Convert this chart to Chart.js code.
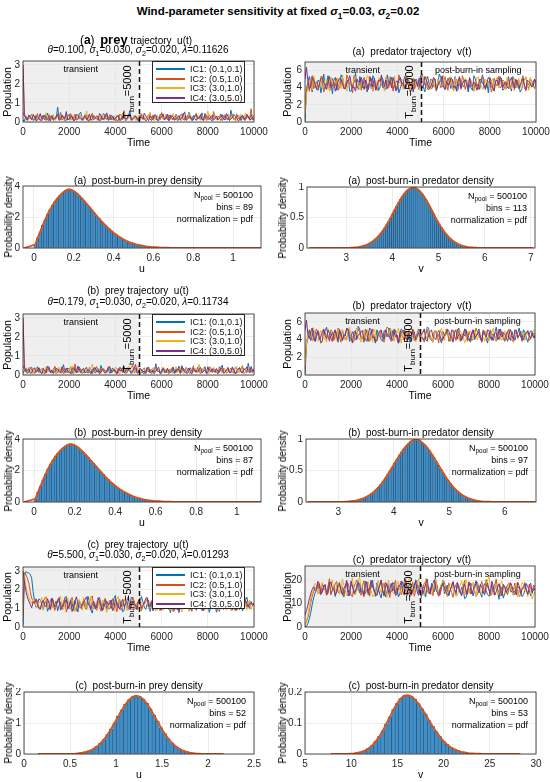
<!DOCTYPE html>
<html><head><meta charset="utf-8">
<script src="https://cdn.jsdelivr.net/npm/chart.js@4.4.0/dist/chart.umd.min.js"></script>
<style>
html,body{margin:0;padding:0;background:#fff;}
body{width:550px;height:782px;position:relative;overflow:hidden;font-family:"Liberation Sans",Arial,Helvetica,sans-serif;color:#000;}
canvas{position:absolute;}
.t{position:absolute;white-space:nowrap;line-height:1;}
sub{font-size:72%;vertical-align:-0.4em;line-height:0;}
.legend{position:absolute;background:#fff;border:0.8px solid #262626;font-size:9px;box-sizing:border-box;}
</style></head><body>
<script>
// ---------------- DATA ----------------
const time = [0,62.5,125,187.5,250,312.5,375,437.5,500,562.5,625,687.5,750,812.5,875,937.5,
1000,1062.5,1125,1187.5,1250,1312.5,1375,1437.5,1500,1562.5,1625,1687.5,1750,1812.5,1875,1937.5,
2000,2062.5,2125,2187.5,2250,2312.5,2375,2437.5,2500,2562.5,2625,2687.5,2750,2812.5,2875,2937.5,
3000,3062.5,3125,3187.5,3250,3312.5,3375,3437.5,3500,3562.5,3625,3687.5,3750,3812.5,3875,3937.5,
4000,4062.5,4125,4187.5,4250,4312.5,4375,4437.5,4500,4562.5,4625,4687.5,4750,4812.5,4875,4937.5,
5000,5062.5,5125,5187.5,5250,5312.5,5375,5437.5,5500,5562.5,5625,5687.5,5750,5812.5,5875,5937.5,
6000,6062.5,6125,6187.5,6250,6312.5,6375,6437.5,6500,6562.5,6625,6687.5,6750,6812.5,6875,6937.5,
7000,7062.5,7125,7187.5,7250,7312.5,7375,7437.5,7500,7562.5,7625,7687.5,7750,7812.5,7875,7937.5,
8000,8062.5,8125,8187.5,8250,8312.5,8375,8437.5,8500,8562.5,8625,8687.5,8750,8812.5,8875,8937.5,
9000,9062.5,9125,9187.5,9250,9312.5,9375,9437.5,9500,9562.5,9625,9687.5,9750,9812.5,9875,9937.5,
10000];
const icLabels = ['IC1: (0.1,0.1)','IC2: (0.5,1.0)','IC3: (3.0,1.0)','IC4: (3.0,5.0)'];
const icColors = ['#0072BD','#D95319','#EDB120','#7E2F8E'];
const burnTime = 5000;
const nPool = 500100;

// (a) prey u(t)
const preyA1 = [0.10,0.05,0.31,0.14,0.18,0.29,0.42,0.09,0.12,0.35,0.27,0.16,0.08,0.22,0.36,0.11,0.21,0.47,0.15,0.06,
0.33,0.24,0.11,0.19,0.78,0.13,0.19,0.38,0.26,0.07,0.09,0.30,0.40,0.18,0.14,0.25,0.29,0.10,0.17,0.43,
0.51,0.15,0.12,0.28,0.24,0.06,0.07,0.33,0.37,0.12,0.20,0.26,0.30,0.09,0.10,0.39,0.44,0.17,0.16,0.23,
0.23,0.11,0.32,0.20,0.08,0.34,0.27,0.13,0.19,0.45,0.39,0.08,0.12,0.25,0.56,0.18,0.17,0.31,0.28,0.10,
0.09,0.37,0.34,0.16,0.21,0.05,0.13,0.28,0.46,0.14,0.18,0.32,0.26,0.09,0.07,0.41,0.33,0.19,0.15,0.24,
0.24,0.10,0.38,0.21,0.11,0.30,0.29,0.07,0.16,0.35,0.43,0.13,0.10,0.26,0.27,0.51,0.20,0.12,0.35,0.18,
0.08,0.27,0.23,0.14,0.48,0.09,0.14,0.33,0.30,0.20,0.12,0.06,0.37,0.24,0.19,0.11,0.25,0.42,0.09,0.16,
0.33,0.22,0.17,0.08,0.62,0.29,0.13,0.18,0.28,0.35,0.21,0.07,0.36,0.23,0.10,0.31,0.24,0.15,0.40,0.11,
0.16];
const preyA2 = [0.50,0.31,0.19,0.08,0.34,0.22,0.11,0.41,0.25,0.13,0.45,0.20,0.14,0.06,0.30,0.36,0.08,0.17,0.38,0.12,
0.22,0.09,0.13,0.33,0.29,0.15,0.52,0.10,0.16,0.27,0.35,0.19,0.10,0.44,0.24,0.07,0.41,0.20,0.12,0.31,
0.28,0.15,0.18,0.40,0.36,0.09,0.09,0.23,0.47,0.14,0.20,0.33,0.15,0.06,0.31,0.25,0.11,0.39,0.26,0.13,
0.39,0.18,0.14,0.29,0.23,0.07,0.08,0.42,0.34,0.12,0.60,0.21,0.17,0.35,0.27,0.09,0.12,0.30,0.32,0.16,
0.21,0.10,0.44,0.26,0.10,0.19,0.29,0.38,0.16,0.07,0.37,0.23,0.13,0.32,0.25,0.11,0.50,0.17,0.18,0.28,
0.11,0.36,0.30,0.14,0.22,0.08,0.41,0.27,0.09,0.19,0.27,0.45,0.15,0.10,0.35,0.22,0.19,0.06,0.12,0.33,
0.46,0.15,0.24,0.31,0.10,0.20,0.33,0.08,0.18,0.39,0.28,0.12,0.55,0.24,0.13,0.30,0.26,0.07,0.20,0.34,
0.37,0.14,0.11,0.25,0.29,0.40,0.16,0.09,0.43,0.21,0.14,0.32,0.23,0.11,0.09,0.27,0.31,0.18,0.70,0.15,
0.21];
const preyA3 = [3.00,0.45,0.27,0.12,0.13,0.30,0.39,0.17,0.22,0.08,0.10,0.36,0.33,0.15,0.18,0.27,0.49,0.11,0.14,0.24,
0.26,0.40,0.09,0.19,0.35,0.13,0.20,0.31,0.12,0.07,0.43,0.22,0.17,0.10,0.29,0.37,0.11,0.16,0.24,0.33,
0.38,0.12,0.15,0.26,0.58,0.19,0.21,0.09,0.08,0.34,0.31,0.23,0.19,0.14,0.27,0.42,0.13,0.20,0.40,0.11,
0.16,0.32,0.25,0.07,0.10,0.28,0.36,0.15,0.22,0.44,0.47,0.18,0.12,0.25,0.30,0.10,0.18,0.35,0.09,0.21,
0.34,0.13,0.20,0.38,0.27,0.09,0.14,0.29,0.52,0.16,0.17,0.06,0.24,0.33,0.11,0.20,0.37,0.14,0.19,0.41,
0.28,0.10,0.13,0.24,0.45,0.18,0.16,0.31,0.23,0.07,0.08,0.26,0.32,0.15,0.21,0.43,0.39,0.12,0.12,0.29,
0.26,0.37,0.17,0.09,0.35,0.22,0.10,0.16,0.57,0.28,0.19,0.11,0.24,0.34,0.14,0.08,0.31,0.25,0.22,0.15,
0.11,0.30,0.42,0.13,0.18,0.36,0.27,0.07,0.09,0.23,0.34,0.40,0.15,0.12,0.48,0.26,0.20,0.09,0.13,0.33,
0.29];
const preyA4 = [3.00,0.38,0.21,0.10,0.37,0.26,0.14,0.33,0.29,0.07,0.11,0.22,0.44,0.15,0.19,0.35,0.25,0.12,0.08,0.30,
0.32,0.14,0.17,0.27,0.40,0.09,0.13,0.34,0.23,0.18,0.55,0.11,0.15,0.28,0.30,0.07,0.10,0.39,0.36,0.20,
0.19,0.08,0.27,0.33,0.12,0.21,0.42,0.10,0.18,0.31,0.24,0.16,0.09,0.45,0.33,0.13,0.16,0.27,0.48,0.09,
0.13,0.36,0.28,0.11,0.21,0.26,0.35,0.08,0.11,0.30,0.26,0.19,0.17,0.41,0.39,0.12,0.14,0.24,0.31,0.17,
0.08,0.29,0.23,0.14,0.46,0.32,0.19,0.07,0.30,0.25,0.12,0.38,0.37,0.10,0.16,0.22,0.25,0.43,0.10,0.18,
0.41,0.06,0.18,0.33,0.27,0.15,0.13,0.24,0.34,0.11,0.20,0.37,0.53,0.09,0.15,0.28,0.29,0.12,0.11,0.31,
0.36,0.16,0.22,0.40,0.14,0.08,0.45,0.27,0.17,0.13,0.26,0.34,0.09,0.19,0.32,0.11,0.19,0.28,0.38,0.15,
0.12,0.44,0.28,0.09,0.16,0.23,0.40,0.31,0.21,0.07,0.10,0.26,0.35,0.14,0.18,0.41,0.27,0.12,0.14,0.25,
0.33];

// (a) predator v(t)
const predA1 = [0.1,3.6,4.6,5.3,4.1,3.5,5.2,4.4,3.8,4.9,4.7,3.4,4.3,5.6,3.9,4.6,5.4,4.0,4.6,3.3,
4.9,5.2,3.7,4.3,4.4,5.5,5.1,3.9,4.2,4.8,4.9,3.6,3.6,4.4,4.6,5.7,4.2,3.8,5.3,4.1,
4.0,5.0,4.8,3.5,4.3,4.5,3.9,5.4,5.1,4.2,4.5,3.7,4.1,5.2,5.0,4.0,3.8,5.5,4.6,4.3,
5.2,3.9,4.2,4.7,4.8,3.4,3.9,4.5,4.5,5.3,5.1,4.4,4.3,3.6,3.7,4.9,4.7,5.0,4.4,3.8,
5.4,4.2,4.1,3.5,4.8,5.3,4.4,4.0,3.9,4.8,5.0,3.7,4.2,5.6,5.2,4.1,4.3,3.8,4.0,5.1,
4.7,3.9,4.5,4.6,5.3,3.6,3.8,5.2,4.6,4.3,4.1,4.9,4.9,3.5,4.4,4.0,3.7,5.4,5.0,4.2,
4.4,3.8,4.9,5.5,4.0,4.2,4.6,3.4,5.2,4.8,4.1,3.9,4.8,5.1,4.3,4.6,5.1,3.7,3.9,4.5,
4.7,5.3,4.2,3.6,5.3,4.4,4.0,4.9,4.7,3.5,3.8,4.6,5.0,5.2,4.3,3.9,4.6,4.1,4.6,5.0,
4.4];
const predA2 = [1.0,4.0,4.4,3.6,5.0,5.4,3.9,4.3,4.7,4.1,4.2,5.3,5.3,3.5,4.1,4.6,4.8,3.8,3.8,5.1,
4.5,4.2,5.1,3.7,4.1,4.9,4.7,4.0,3.9,5.5,5.0,4.4,4.3,3.4,5.4,4.8,4.0,4.2,4.6,3.7,
4.9,5.2,4.0,3.8,4.4,4.7,5.1,3.6,4.2,4.4,3.7,5.0,4.9,4.3,4.4,3.9,5.2,4.6,4.0,5.3,
4.6,3.6,4.3,4.1,3.8,5.5,5.0,4.2,4.5,3.9,5.3,4.7,4.1,3.5,4.7,5.1,3.9,4.5,4.8,4.0,
4.2,5.6,5.1,4.3,4.5,3.8,3.8,5.0,4.9,4.1,4.3,3.6,5.0,4.8,4.0,4.4,4.6,5.3,4.4,3.7,
5.2,4.6,4.1,3.7,4.7,5.0,4.3,4.4,3.9,5.4,4.9,3.8,4.5,4.1,5.2,4.8,4.2,3.6,4.8,4.5,
3.8,4.3,4.6,5.3,5.0,3.9,4.2,4.7,4.8,3.5,3.9,5.1,4.5,4.2,5.3,4.0,4.1,4.9,4.7,3.8,
4.3,5.0,3.9,4.4,5.1,3.7,4.5,4.9,4.2,4.1,4.9,5.4,4.0,3.6,4.6,4.3,5.1,4.8,4.3,3.9,
4.5];
const predA3 = [1.0,3.2,4.0,4.9,4.8,3.7,5.4,4.5,4.1,3.8,4.6,5.2,3.9,4.3,5.0,4.8,4.4,3.6,5.2,4.6,
4.1,4.7,4.7,5.1,4.3,3.9,5.5,4.4,3.9,3.6,4.7,5.0,4.2,4.4,4.9,5.3,5.1,4.0,3.8,4.5,
4.5,3.9,4.3,5.4,5.3,4.1,4.1,3.7,4.7,4.9,3.9,5.1,5.0,4.2,4.4,3.6,5.2,4.7,4.0,4.3,
4.8,4.2,5.4,3.9,4.2,4.6,4.6,5.0,3.8,4.1,4.9,5.2,4.4,3.7,5.1,4.5,4.1,4.8,4.7,3.9,
3.9,4.5,4.8,5.3,5.3,4.1,4.3,3.8,4.6,5.0,4.0,3.7,5.0,4.6,4.4,4.2,5.4,3.9,4.0,4.8,
4.7,5.3,4.1,3.6,5.2,4.4,4.5,4.9,3.8,4.2,4.9,5.1,4.3,3.9,5.0,4.6,4.6,3.7,4.1,5.2,
5.3,4.3,4.4,3.8,3.9,5.0,4.8,4.3,4.2,4.6,5.1,3.6,4.6,5.2,4.0,4.4,4.9,4.7,4.3,3.8,
5.2,4.5,4.0,3.9,4.7,5.1,4.2,4.0,5.1,4.4,3.9,4.8,4.8,5.3,4.5,3.7,5.2,4.2,4.1,4.6,
4.6];
const predA4 = [5.0,6.4,4.8,3.9,4.1,5.2,4.9,4.4,3.9,3.7,4.5,5.1,5.1,4.6,4.3,3.8,4.7,5.3,4.0,4.2,
4.6,3.6,4.2,4.8,5.1,5.0,4.4,3.9,3.9,4.5,4.8,5.4,4.5,4.0,4.1,3.6,5.0,4.7,4.7,5.2,
4.2,3.8,4.9,4.4,3.8,5.3,4.6,4.1,5.1,3.7,4.3,4.9,4.7,5.5,4.0,4.2,4.9,3.9,4.4,4.8,
4.0,5.2,4.7,3.6,4.3,4.8,5.2,4.5,4.5,3.9,4.0,5.0,4.8,4.2,4.4,3.5,5.0,4.7,4.1,5.1,
4.6,3.9,4.2,5.3,4.9,4.4,3.9,4.1,4.6,5.2,5.0,3.7,4.3,4.6,4.8,5.4,4.1,3.8,4.8,4.3,
4.4,5.1,5.0,4.0,4.2,3.6,4.7,5.3,3.9,4.5,4.8,4.9,4.4,3.8,5.1,4.2,4.2,4.6,4.5,3.7,
4.1,5.0,4.9,4.5,4.3,3.8,4.6,5.2,5.0,4.1,4.0,3.6,4.7,4.9,4.3,5.3,4.9,4.0,4.5,4.7,
4.1,3.9,4.8,5.2,4.4,4.0,5.0,4.6,3.9,4.3,4.6,5.1,4.3,3.8,4.9,4.7,4.5,4.1,4.2,5.0,
4.6];

// (b) prey u(t)
const preyB1 = [0.10,0.22,0.36,0.11,0.15,0.40,0.28,0.17,0.09,0.26,0.43,0.12,0.20,0.35,0.13,0.07,0.31,0.45,0.24,0.16,
0.11,0.29,0.39,0.08,0.17,0.33,0.26,0.12,0.54,0.20,0.14,0.37,0.29,0.10,0.08,0.25,0.35,0.13,0.19,0.42,
0.23,0.09,0.12,0.30,0.41,0.15,0.18,0.06,0.27,0.38,0.10,0.21,0.33,0.14,0.50,0.27,0.16,0.09,0.25,0.34,
0.09,0.18,0.37,0.24,0.21,0.11,0.14,0.40,0.30,0.13,0.45,0.19,0.12,0.32,0.26,0.08,0.19,0.28,0.34,0.15,
0.15,0.36,0.28,0.11,0.08,0.24,0.40,0.17,0.22,0.31,0.13,0.07,0.59,0.25,0.18,0.12,0.27,0.39,0.11,0.21,
0.35,0.14,0.20,0.29,0.14,0.08,0.32,0.22,0.47,0.13,0.16,0.36,0.24,0.10,0.09,0.27,0.38,0.15,0.21,0.30,
0.13,0.41,0.29,0.12,0.18,0.24,0.44,0.09,0.11,0.33,0.26,0.17,0.36,0.22,0.15,0.07,0.23,0.37,0.52,0.11,
0.12,0.26,0.31,0.14,0.19,0.43,0.27,0.08,0.10,0.29,0.39,0.16,0.17,0.34,0.25,0.12,0.62,0.20,0.14,0.30,
0.28];
const preyB2 = [0.50,0.27,0.16,0.09,0.29,0.35,0.41,0.13,0.12,0.22,0.25,0.39,0.18,0.07,0.37,0.24,0.10,0.31,0.33,0.15,
0.21,0.12,0.46,0.28,0.14,0.19,0.27,0.34,0.09,0.16,0.35,0.11,0.19,0.42,0.24,0.08,0.58,0.23,0.13,0.30,
0.30,0.10,0.17,0.26,0.22,0.09,0.40,0.31,0.11,0.18,0.28,0.44,0.15,0.07,0.34,0.25,0.20,0.13,0.12,0.36,
0.43,0.14,0.18,0.29,0.26,0.11,0.10,0.38,0.36,0.17,0.23,0.08,0.14,0.27,0.31,0.40,0.52,0.12,0.16,0.33,
0.25,0.09,0.11,0.30,0.38,0.15,0.19,0.26,0.29,0.07,0.13,0.35,0.45,0.18,0.21,0.10,0.09,0.28,0.32,0.20,
0.17,0.06,0.27,0.37,0.42,0.14,0.12,0.31,0.24,0.09,0.35,0.22,0.15,0.40,0.30,0.11,0.10,0.26,0.48,0.17,
0.20,0.33,0.14,0.08,0.33,0.25,0.26,0.15,0.11,0.43,0.39,0.12,0.18,0.29,0.23,0.07,0.44,0.21,0.13,0.36,
0.28,0.10,0.16,0.25,0.36,0.18,0.09,0.41,0.31,0.14,0.22,0.30,0.49,0.08,0.15,0.27,0.26,0.38,0.19,0.12,
0.34];
const preyB3 = [3.00,0.52,0.24,0.15,0.40,0.28,0.13,0.08,0.31,0.37,0.18,0.11,0.27,0.34,0.09,0.22,0.45,0.14,0.20,0.30,
0.14,0.25,0.33,0.10,0.22,0.41,0.12,0.19,0.38,0.07,0.25,0.29,0.16,0.35,0.48,0.13,0.11,0.24,0.29,0.18,
0.19,0.06,0.36,0.27,0.13,0.21,0.26,0.39,0.57,0.12,0.17,0.30,0.23,0.09,0.10,0.33,0.34,0.16,0.21,0.44,
0.28,0.15,0.12,0.23,0.42,0.31,0.18,0.08,0.30,0.37,0.15,0.11,0.25,0.46,0.37,0.14,0.09,0.26,0.24,0.19,
0.50,0.12,0.16,0.29,0.32,0.07,0.20,0.36,0.13,0.24,0.39,0.10,0.22,0.31,0.27,0.17,0.11,0.41,0.35,0.15,
0.18,0.32,0.26,0.09,0.14,0.28,0.44,0.13,0.21,0.37,0.30,0.08,0.10,0.23,0.37,0.29,0.23,0.12,0.15,0.34,
0.33,0.19,0.56,0.11,0.12,0.38,0.28,0.16,0.19,0.07,0.24,0.30,0.41,0.14,0.16,0.26,0.31,0.40,0.10,0.21,
0.26,0.09,0.38,0.24,0.17,0.11,0.22,0.33,0.47,0.15,0.13,0.28,0.29,0.08,0.20,0.36,0.35,0.14,0.12,0.25,
0.27];
const preyB4 = [3.00,0.41,0.19,0.26,0.32,0.09,0.11,0.30,0.38,0.14,0.23,0.36,0.15,0.07,0.29,0.22,0.13,0.45,0.42,0.12,
0.26,0.08,0.17,0.34,0.31,0.18,0.10,0.43,0.24,0.13,0.36,0.21,0.14,0.09,0.28,0.39,0.21,0.12,0.47,0.25,
0.12,0.30,0.33,0.10,0.18,0.27,0.25,0.14,0.09,0.35,0.39,0.16,0.22,0.08,0.15,0.31,0.30,0.20,0.17,0.40,
0.44,0.11,0.20,0.29,0.13,0.07,0.34,0.23,0.24,0.38,0.11,0.17,0.37,0.27,0.19,0.12,0.27,0.33,0.55,0.10,
0.14,0.32,0.29,0.16,0.21,0.08,0.35,0.42,0.10,0.19,0.26,0.13,0.18,0.30,0.41,0.07,0.15,0.34,0.23,0.11,
0.32,0.25,0.12,0.20,0.39,0.14,0.20,0.31,0.28,0.09,0.49,0.27,0.16,0.12,0.25,0.37,0.13,0.06,0.36,0.22,
0.21,0.15,0.30,0.40,0.11,0.18,0.27,0.09,0.43,0.24,0.17,0.32,0.24,0.13,0.34,0.20,0.14,0.38,0.29,0.10,
0.18,0.27,0.40,0.12,0.13,0.35,0.26,0.08,0.22,0.31,0.37,0.15,0.10,0.29,0.31,0.43,0.19,0.11,0.45,0.17,
0.24];

// (b) predator v(t)
const predB1 = [0.1,3.3,4.5,5.1,3.9,4.4,5.1,3.8,4.3,4.9,4.7,3.6,3.8,4.6,5.0,5.4,4.4,4.0,4.8,4.2,
4.1,5.0,4.6,3.7,5.2,4.3,3.9,4.6,4.4,5.3,5.0,3.8,4.2,4.9,4.7,4.0,4.0,5.5,5.2,4.3,
4.3,3.7,4.6,5.1,3.8,4.4,4.9,5.2,4.2,3.6,5.1,4.6,4.4,4.0,3.8,5.0,4.9,4.3,4.5,5.3,
4.1,3.9,5.2,4.7,4.5,3.6,3.9,4.9,4.8,5.1,4.3,4.1,5.0,3.7,4.4,4.8,3.9,4.2,4.7,5.2,
4.9,4.4,4.2,3.8,4.6,5.4,5.3,4.1,4.0,3.7,4.7,5.0,4.3,4.6,4.0,3.6,4.9,4.5,4.5,5.0,
4.1,3.8,5.1,4.9,4.3,4.0,4.8,5.3,3.8,4.2,4.6,4.4,5.1,4.7,4.2,3.7,4.5,5.1,4.0,4.3,
4.8,5.2,4.4,3.9,5.0,4.7,4.1,3.6,4.7,4.9,3.9,4.5,4.8,5.4,4.4,4.0,5.2,4.6,4.1,3.8,
4.6,5.0,4.2,3.9,4.9,4.3,3.9,4.5,4.7,5.3,4.3,4.0,5.1,4.8,4.2,3.7,4.6,5.0,4.8,4.2,
4.4];
const predB2 = [1.0,3.8,4.2,5.0,4.9,3.9,4.0,4.6,5.2,4.7,4.4,3.7,3.9,5.1,4.8,4.3,4.3,3.8,5.1,4.9,
3.9,4.5,4.7,5.3,4.3,3.7,5.1,4.6,4.0,4.2,4.8,5.0,4.2,3.6,3.8,4.9,4.6,5.2,4.9,4.1,
4.3,3.9,5.2,4.7,4.1,3.8,4.7,5.1,4.5,4.0,3.9,4.8,5.0,4.3,4.3,3.7,4.7,5.4,5.3,4.2,
3.8,4.6,4.5,5.1,4.1,3.6,4.9,4.4,4.4,3.9,5.0,4.7,4.0,4.8,4.7,5.2,4.2,3.8,4.6,4.9,
5.1,4.3,4.0,3.7,4.8,5.1,4.3,4.5,3.9,4.1,5.0,4.8,4.5,3.6,5.1,4.7,4.1,4.4,4.6,5.2,
3.8,4.2,4.9,5.1,4.4,3.9,5.2,4.7,4.0,4.4,4.7,5.0,4.3,3.8,4.9,4.5,3.9,4.1,4.5,5.3,
4.8,4.3,4.2,3.7,5.1,4.9,4.4,4.1,3.9,5.1,4.7,4.4,4.4,3.8,5.0,4.6,4.1,4.9,4.6,3.9,
4.3,4.8,5.2,4.0,4.0,3.7,4.6,5.1,4.3,4.5,4.9,3.8,4.1,4.7,4.8,5.0,3.9,4.2,4.5,4.7,
4.4];
const predB3 = [1.0,3.5,4.7,4.3,4.2,5.3,5.3,4.1,4.0,3.8,4.5,5.0,4.9,4.2,4.1,3.7,5.2,4.8,4.3,4.0,
4.8,4.4,3.9,5.2,4.6,4.0,5.1,4.7,4.2,3.9,4.8,5.4,3.8,4.3,4.5,4.9,5.3,4.1,4.1,3.7,
4.7,5.1,4.0,4.5,5.0,4.2,4.4,3.7,5.2,4.8,3.9,4.4,4.6,5.0,4.2,3.9,4.9,4.6,4.4,5.1,
5.1,4.2,3.8,4.7,4.7,5.3,4.3,3.6,5.0,4.4,4.1,4.9,4.6,5.2,5.3,4.0,4.2,3.8,4.5,5.0,
3.9,4.3,4.9,5.2,4.4,4.1,5.1,4.6,4.1,3.7,4.7,5.0,4.0,4.4,4.9,5.3,4.3,3.9,5.2,4.5,
4.5,4.0,3.9,4.7,4.8,5.2,4.2,4.0,5.0,4.6,4.4,3.6,4.0,4.8,4.8,5.0,4.6,4.1,5.1,4.3,
4.0,4.9,4.7,4.3,4.2,3.8,5.0,4.7,3.9,4.4,4.8,5.3,4.3,4.0,5.1,4.6,4.2,3.9,4.7,5.0,
4.0,4.4,4.9,5.2,4.4,3.8,5.1,4.7,4.1,4.5,4.7,5.0,4.3,3.9,4.9,4.6,4.1,4.3,4.8,5.1,
4.5];
const predB4 = [5.0,6.2,4.6,4.1,4.9,5.3,4.2,3.8,4.7,5.0,4.0,4.3,4.8,5.2,4.4,4.1,5.1,4.7,4.1,3.8,
4.7,5.1,4.3,4.0,5.0,4.7,3.9,4.4,4.6,5.2,5.2,4.2,4.2,3.7,4.8,5.0,4.1,4.5,4.6,4.9,
5.0,4.1,4.1,3.8,4.5,5.3,5.1,4.2,4.3,3.7,3.9,4.6,4.8,5.1,4.3,4.0,5.1,4.7,4.4,4.2,
4.1,5.0,4.9,4.3,4.5,3.6,4.7,5.2,5.0,4.6,4.2,3.9,4.7,4.5,4.3,5.1,4.9,4.0,4.3,4.8,
4.3,4.6,4.8,5.2,4.0,3.8,4.6,4.9,5.1,4.3,4.2,4.0,4.8,5.0,4.4,3.9,4.0,4.6,4.7,5.2,
5.0,4.4,4.3,3.7,4.9,5.0,4.1,4.6,4.6,3.9,4.4,5.2,5.1,4.2,3.9,4.0,4.8,5.1,4.3,4.4,
4.6,4.9,4.1,3.8,4.9,4.6,4.3,5.1,5.0,4.1,4.2,3.9,4.7,4.8,4.0,5.2,4.5,4.3,4.8,4.6,
4.2,3.8,4.7,5.1,4.4,4.0,5.1,4.9,4.2,4.5,4.9,3.9,4.0,4.6,4.7,5.0,4.4,4.1,4.8,4.2,
4.3];

// (c) prey u(t)
const preyC1 = [0.10,2.70,2.95,2.90,2.88,2.80,2.62,1.90,1.38,1.05,1.12,1.50,1.45,1.21,0.92,1.33,1.30,0.84,1.05,1.44,
1.52,1.02,1.18,1.39,0.86,1.15,1.34,0.97,1.10,1.58,1.62,1.20,0.98,1.45,1.27,0.89,1.41,1.13,0.80,1.36,
1.23,0.95,1.48,1.29,1.02,1.64,1.35,0.91,0.74,1.26,1.19,1.03,1.56,1.31,1.08,0.87,1.30,1.47,0.95,1.17,
1.42,0.99,1.16,1.53,1.68,1.11,1.03,1.38,1.25,0.82,0.88,1.32,1.37,1.00,1.12,1.59,1.50,1.07,0.97,1.28,
1.31,1.19,1.63,1.37,1.06,0.94,1.22,1.45,0.83,1.14,1.44,1.66,1.15,0.93,1.29,1.24,0.91,1.35,1.55,1.01,
1.20,1.42,0.76,1.09,1.39,1.57,1.08,0.90,1.33,1.22,1.71,1.18,1.01,1.46,1.26,0.85,0.94,1.31,1.47,1.09,
1.14,0.96,1.36,1.54,0.87,1.12,1.58,1.27,1.21,0.78,1.04,1.40,1.40,1.19,0.79,1.05,1.28,1.61,1.11,0.93,
1.53,1.30,0.99,1.15,1.32,1.48,1.17,0.88,1.66,1.23,1.07,1.37,0.85,1.10,1.43,1.60,1.24,0.98,1.35,1.21,
1.18];
const preyC2 = [0.50,2.90,2.80,2.60,2.35,1.90,1.55,1.35,1.22,1.51,1.40,1.07,0.97,1.28,1.33,1.55,1.61,1.14,1.08,0.90,
1.26,1.45,0.88,1.12,1.47,1.30,1.15,0.93,1.36,1.52,0.79,1.04,1.21,1.39,1.58,1.16,1.02,0.86,1.30,1.43,
1.12,1.25,1.44,1.01,0.93,1.34,1.28,1.60,1.65,1.09,1.06,0.89,1.19,1.42,0.84,1.18,1.38,1.53,1.23,0.96,
0.98,1.27,1.51,1.13,1.17,0.81,1.32,1.48,0.90,1.20,1.45,1.36,1.09,0.94,1.27,1.11,1.60,1.39,1.03,1.24,
1.34,1.56,0.86,1.08,1.20,1.33,1.49,0.98,1.11,1.41,0.95,1.22,1.39,1.64,1.25,0.87,1.72,1.30,1.05,1.16,
1.29,0.92,1.14,1.37,0.81,1.05,1.43,1.26,1.18,0.97,1.57,1.35,0.99,1.12,1.31,1.50,1.10,0.83,1.37,1.24,
0.89,1.19,1.24,1.46,1.52,1.03,1.07,1.29,1.35,1.61,0.96,1.14,1.46,1.33,1.16,0.90,0.83,1.21,1.30,1.47,
1.13,0.95,1.62,1.38,1.01,1.19,1.27,0.88,1.41,1.25,0.92,1.10,1.22,1.57,1.54,1.06,1.08,1.32,1.36,1.17,
1.20];
const preyC3 = [3.00,2.70,2.20,1.85,1.62,1.40,1.25,1.52,1.43,1.11,1.06,1.34,1.30,1.58,0.89,1.20,1.51,1.02,1.17,1.39,
1.38,0.99,1.02,1.27,1.24,1.45,1.66,1.08,0.95,1.19,1.33,1.55,1.12,0.94,1.45,1.26,0.82,1.13,1.28,1.47,
1.19,0.90,1.57,1.30,1.04,1.21,1.36,1.62,0.91,1.07,1.22,1.35,1.49,0.97,1.10,1.42,1.31,1.16,0.78,1.05,
1.40,1.24,1.14,0.85,1.27,1.50,1.63,1.19,1.00,1.12,1.35,1.58,0.87,1.09,1.23,1.33,1.46,0.92,1.09,1.28,
0.96,1.43,1.32,1.11,1.18,1.36,1.54,0.98,1.05,1.21,1.29,1.61,0.84,1.02,1.41,1.26,1.13,0.88,1.26,1.44,
1.59,1.17,0.93,1.30,1.37,0.99,1.15,1.52,1.24,1.08,0.80,1.22,1.48,1.35,1.07,0.86,1.34,1.57,1.20,1.01,
1.44,1.27,1.03,1.13,1.29,1.50,0.90,1.18,1.56,1.37,1.16,0.95,1.25,1.42,1.39,1.04,0.97,1.23,1.31,1.53,
1.12,0.89,1.47,1.29,0.86,1.11,1.23,1.46,1.35,0.97,1.01,1.24,1.60,1.38,1.18,0.91,1.28,1.43,0.94,1.15,
1.33];
const preyC4 = [3.00,2.40,1.92,1.60,1.38,1.20,1.02,1.35,1.31,1.47,1.18,0.99,0.94,1.26,1.42,1.13,1.09,1.51,1.27,0.96,
1.55,1.29,1.06,1.18,1.35,1.57,0.90,1.07,1.21,1.32,1.47,0.97,1.13,1.40,0.82,1.05,1.39,1.61,1.24,1.10,
1.00,1.17,1.32,1.46,1.61,1.27,1.11,0.92,1.26,1.38,0.96,1.15,1.43,1.58,1.19,0.87,1.05,1.30,1.37,1.20,
1.22,1.44,0.88,1.02,1.50,1.31,1.14,0.95,1.29,1.48,1.07,1.23,1.40,1.62,0.93,1.11,1.33,1.25,1.17,0.91,
1.45,1.28,1.03,1.16,1.28,1.53,1.58,1.09,1.10,1.34,0.85,1.00,1.36,1.47,1.20,0.94,1.48,1.31,0.99,1.16,
1.25,1.05,1.41,1.55,1.08,0.89,1.30,1.43,0.77,1.12,1.34,1.24,1.16,0.98,1.53,1.36,1.04,1.21,1.27,1.46,
0.92,1.10,1.38,1.29,1.21,0.87,1.12,1.35,1.49,1.57,0.98,1.14,1.30,1.42,1.64,1.19,1.09,0.95,1.23,1.37,
1.36,1.52,1.01,1.18,1.26,0.90,1.44,1.33,0.89,1.07,1.32,1.45,1.15,0.96,1.42,1.28,1.06,1.22,1.30,1.14,
1.25];

// (c) predator v(t)
const predC1 = [0.1,0.3,1.5,3.5,6.2,9.5,12.4,14.5,15.6,18.0,17.2,14.1,14.8,16.9,18.1,13.5,16.0,19.2,13.9,15.5,
17.5,13.0,15.2,18.2,19.0,16.1,14.1,12.8,16.7,18.9,13.2,15.4,18.4,17.0,15.9,13.7,17.8,19.5,14.5,16.2,
16.3,13.6,19.6,17.3,13.6,15.0,17.0,19.9,15.4,13.1,18.8,16.5,14.0,12.4,16.9,18.6,12.8,15.2,17.7,14.3,
15.1,19.0,18.3,14.4,16.6,12.9,14.2,17.6,19.3,16.0,15.8,13.4,17.3,18.5,13.5,15.5,16.4,20.1,18.9,14.8,
14.7,12.5,17.1,16.3,12.9,18.2,16.2,14.0,18.6,15.8,15.0,19.4,17.6,13.3,14.4,16.7,19.8,14.1,15.7,17.9,
13.3,15.6,17.4,19.1,16.1,13.7,18.2,15.3,14.6,17.0,16.8,12.1,12.6,15.4,17.9,18.8,15.3,13.2,16.5,19.2,
19.1,16.4,14.3,12.7,17.2,18.5,15.5,13.8,13.1,16.6,18.0,14.7,16.0,19.3,14.9,11.8,17.5,15.9,12.3,14.6,
16.6,18.1,18.7,15.0,15.1,13.6,14.0,17.7,17.3,16.4,16.2,12.9,13.8,15.8,18.5,17.1,15.6,13.3,14.2,16.8,
15.9];
const predC2 = [1.0,2.2,4.1,7.0,10.3,13.0,15.2,16.5,16.8,19.3,14.9,13.6,18.3,17.0,15.6,14.2,17.4,20.6,13.8,15.9,
16.2,18.4,19.4,14.8,14.5,16.6,17.1,13.3,15.3,19.0,18.6,16.1,13.7,12.9,16.9,18.5,20.1,15.7,15.0,13.5,
17.8,19.7,14.2,16.0,16.4,13.1,18.9,17.3,15.7,14.4,13.4,16.8,17.3,19.6,16.0,13.8,19.2,17.5,14.8,12.6,
16.6,15.2,18.1,19.9,14.0,16.3,17.5,13.7,15.9,18.0,20.4,15.4,14.6,12.8,16.8,19.1,13.1,15.6,18.4,17.2,
15.4,13.0,17.0,18.6,19.5,15.3,14.3,16.9,16.5,13.4,18.2,20.0,15.1,14.5,13.6,17.3,17.7,19.3,16.1,14.9,
18.8,16.6,14.7,12.7,16.3,18.1,19.0,15.9,15.5,13.9,17.2,19.8,13.9,16.4,16.7,14.0,18.5,17.8,15.2,13.0,
14.1,16.3,17.6,19.4,16.2,14.6,20.2,17.1,15.8,13.2,14.4,16.9,17.9,20.5,16.4,14.1,13.3,15.7,18.0,17.4,
15.6,13.8,17.1,18.6,14.9,16.0,18.7,15.4,16.0,13.1,13.5,16.7,17.4,19.0,15.3,14.2,18.2,16.6,14.6,17.9,
16.8];
const predC3 = [1.0,2.6,5.2,8.5,12.0,14.5,16.1,18.7,17.9,14.0,15.4,17.2,19.1,16.6,16.3,13.3,14.2,16.9,18.0,20.1,
15.8,14.2,17.6,18.9,13.9,16.2,20.5,17.8,16.4,13.5,14.7,16.0,18.5,21.0,15.1,13.7,17.3,19.6,21.2,16.1,
14.5,12.8,16.9,18.1,19.3,15.2,15.6,13.0,13.2,16.4,17.7,19.9,16.2,14.3,18.8,16.6,14.9,12.5,20.0,17.4,
16.7,15.0,14.1,17.3,18.2,19.5,15.9,14.4,17.4,15.8,13.6,16.5,19.7,21.3,16.0,14.7,14.8,17.0,18.3,20.6,
17.0,15.6,15.3,13.1,20.8,18.4,16.6,14.2,13.9,16.8,18.1,20.4,15.5,13.5,17.2,18.7,19.4,15.9,14.4,12.8,
16.9,18.3,18.6,15.7,15.0,13.0,13.4,16.2,17.8,19.7,16.3,14.1,20.3,18.0,14.6,16.4,17.1,19.2,15.7,13.3,
18.9,17.6,16.1,14.0,14.2,16.9,17.5,20.0,21.4,16.7,15.2,13.6,16.8,18.6,13.8,15.0,18.4,19.5,16.5,14.3,
14.0,17.0,19.0,16.2,15.9,13.4,17.3,18.8,12.7,14.9,16.4,19.1,18.1,15.3,15.4,12.9,17.7,16.0,11.9,13.8,
15.1];
const predC4 = [5.0,7.0,9.3,12.0,14.1,16.0,17.2,15.4,16.0,19.4,18.5,14.3,15.1,17.7,17.9,13.8,14.6,18.3,19.2,16.5,
16.4,13.7,15.0,17.9,18.1,15.6,13.8,16.4,17.4,19.9,15.9,13.4,19.6,17.6,14.3,15.2,16.8,19.0,18.3,14.9,
15.2,13.1,17.7,19.3,14.5,16.8,19.9,17.2,16.1,13.9,13.6,15.8,18.0,20.1,15.6,13.2,17.1,18.5,14.8,16.3,
18.6,15.5,16.3,13.4,14.0,17.8,17.5,19.6,15.4,13.6,19.0,17.1,16.7,14.2,13.9,16.0,17.8,19.4,15.3,13.5,
16.9,18.3,14.2,16.4,18.4,20.5,15.8,14.1,17.0,18.6,20.2,15.9,14.7,13.1,16.2,17.6,18.7,16.4,15.1,13.8,
13.7,16.0,17.3,19.4,16.0,14.8,18.9,17.2,14.4,13.2,16.6,18.2,15.5,13.9,19.3,17.0,14.1,15.8,17.6,19.7,
16.3,14.5,18.2,16.9,14.9,13.6,17.0,18.8,15.7,14.2,19.5,17.4,13.5,15.1,16.8,18.5,15.0,13.3,18.1,16.7,
14.6,16.1,16.9,18.9,17.4,14.7,15.2,13.6,19.1,17.5,14.3,16.2,16.5,18.4,15.8,13.9,17.2,18.7,14.8,15.9,
16.1];

// Post-burn-in histograms (pdf heights per bin) and bin edge ranges
const preyA_bins = [0, 1.10];
const preyA_hist = [0.22,0.66,1.05,1.46,1.82,2.17,2.48,2.75,3.00,3.20,
3.38,3.54,3.67,3.76,3.79,3.74,3.64,3.52,3.37,3.20,
3.02,2.84,2.65,2.46,2.27,2.08,1.90,1.72,1.55,1.39,
1.24,1.10,0.97,0.85,0.74,0.64,0.55,0.47,0.40,0.34,
0.29,0.24,0.20,0.17,0.14,0.11,0.09,0.07,0.06,0.05,
0.04,0.03,0.025,0.02,0.015,0.012,0.01,0.008,0.006,0.005,
0.004,0.003,0.002,0.002,0.001,0.001,0.001,0,0,0,
0,0,0,0,0,0,0,0,0,0,
0,0,0,0,0,0,0,0,0];
const preyA_pdfRange = [-0.05, 1.14];

const predA_bins = [2.2, 7.0];
const predA_hist = [0,0,0,0,0,0,0,0,0,0,
0,0,0,0,0,0.001,0.001,0.001,0.002,0.003,
0.004,0.006,0.008,0.011,0.015,0.020,0.027,0.035,0.045,0.058,
0.073,0.092,0.114,0.140,0.170,0.204,0.243,0.286,0.333,0.384,
0.438,0.495,0.565,0.626,0.686,0.744,0.799,0.849,0.894,0.931,
0.960,0.980,0.990,0.990,0.978,0.958,0.929,0.891,0.847,0.796,
0.741,0.683,0.622,0.561,0.492,0.435,0.381,0.330,0.283,0.240,
0.202,0.168,0.138,0.113,0.091,0.072,0.057,0.044,0.034,0.026,
0.020,0.015,0.011,0.008,0.006,0.004,0.003,0.002,0.001,0.001,
0,0,0,0,0,0,0,0,0,0,
0,0,0,0,0,0,0,0,0,0,
0,0,0];
const predA_pdfRange = [2.2, 7.05];

const preyB_bins = [0, 1.08];
const preyB_hist = [0.20,0.63,1.01,1.41,1.76,2.10,2.40,2.66,2.90,3.10,
3.28,3.43,3.55,3.64,3.68,3.65,3.57,3.46,3.32,3.16,
3.00,2.83,2.65,2.47,2.29,2.11,1.93,1.75,1.58,1.42,
1.27,1.13,1.00,0.88,0.77,0.67,0.58,0.50,0.43,0.36,
0.30,0.25,0.21,0.17,0.14,0.11,0.09,0.07,0.06,0.05,
0.04,0.03,0.025,0.02,0.015,0.012,0.01,0.008,0.006,0.005,
0.004,0.003,0.002,0.002,0.001,0.001,0,0,0,0,
0,0,0,0,0,0,0,0,0,0,
0,0,0,0,0,0,0];
const preyB_pdfRange = [-0.05, 1.12];

const predB_bins = [2.45, 6.5];
const predB_hist = [0,0,0,0,0,0,0,0,0,0,
0,0.001,0.001,0.002,0.003,0.004,0.006,0.009,0.013,0.017,
0.023,0.031,0.040,0.052,0.067,0.085,0.106,0.131,0.161,0.195,
0.234,0.278,0.327,0.379,0.436,0.495,0.556,0.619,0.680,0.739,
0.795,0.846,0.890,0.927,0.963,0.982,0.990,0.987,0.972,0.939,
0.906,0.864,0.816,0.762,0.704,0.643,0.581,0.519,0.459,0.401,
0.347,0.297,0.251,0.210,0.174,0.143,0.116,0.093,0.074,0.058,
0.045,0.034,0.026,0.019,0.014,0.010,0.007,0.005,0.004,0.003,
0.002,0.001,0.001,0,0,0,0,0,0,0,
0,0,0,0,0,0,0];
const predB_pdfRange = [2.45, 6.55];

const preyC_bins = [0.15, 2.17];
const preyC_hist = [0,0,0,0,0,0,0.001,0.002,0.004,0.007,
0.013,0.024,0.041,0.067,0.106,0.162,0.239,0.341,0.469,0.626,
0.809,1.009,1.216,1.418,1.600,1.746,1.842,1.880,1.855,1.770,
1.633,1.458,1.257,1.050,0.848,0.661,0.498,0.364,0.257,0.175,
0.116,0.074,0.046,0.027,0.015,0.008,0.004,0.002,0.001,0,
0,0];
const preyC_pdfRange = [0.15, 2.17];

const predC_bins = [7.8, 28.3];
const predC_hist = [0,0,0,0,0,0.001,0.002,0.004,0.007,0.011,
0.018,0.027,0.040,0.056,0.075,0.097,0.120,0.143,0.163,0.179,
0.188,0.190,0.186,0.176,0.163,0.146,0.128,0.108,0.089,0.072,
0.056,0.042,0.031,0.022,0.016,0.011,0.007,0.005,0.003,0.002,
0.001,0.001,0,0,0,0,0,0,0,0,
0,0,0];
const predC_pdfRange = [7.8, 28.3];

// ---------------- RENDERING ----------------
const FONT = '"Liberation Sans", Arial, Helvetica, sans-serif';
Chart.defaults.font.family = FONT;
const PADL = 34, PADT = 4, PADR = 18, PADB = 18;
const fmt = v => String(Math.round(v * 1e6) / 1e6);

const boxPlugin = {
  id: 'boxp',
  beforeDraw(chart, args, o) {
    if (o.shade == null) return;
    const {ctx, chartArea: a, scales: {x}} = chart;
    const x0 = x.getPixelForValue(x.min), x1 = x.getPixelForValue(o.shade);
    ctx.save(); ctx.fillStyle = '#efefef';
    ctx.fillRect(x0, a.top, x1 - x0, a.bottom - a.top); ctx.restore();
  },
  afterDatasetsDraw(chart, args, o) {
    if (o.shade == null) return;
    const {ctx, chartArea: a, scales: {x}} = chart;
    const xp = Math.round(x.getPixelForValue(o.shade)) + 0.5;
    ctx.save(); ctx.strokeStyle = '#111'; ctx.lineWidth = 1.5; ctx.setLineDash([5, 3]);
    ctx.beginPath(); ctx.moveTo(xp, a.top); ctx.lineTo(xp, a.bottom); ctx.stroke(); ctx.restore();
  },
  afterDraw(chart) {
    const {ctx, chartArea: a} = chart;
    ctx.save(); ctx.strokeStyle = '#262626'; ctx.lineWidth = 0.8;
    ctx.strokeRect(a.left, a.top, a.right - a.left, a.bottom - a.top); ctx.restore();
  }
};

function makeChart(box, type, datasets, xr, yr, shade) {
  const cv = document.createElement('canvas');
  const W = box.R - box.L + PADL + PADR, H = box.B - box.T + PADT + PADB;
  cv.width = W; cv.height = H;
  cv.style.left = (box.L - PADL) + 'px'; cv.style.top = (box.T - PADT) + 'px';
  cv.style.width = W + 'px'; cv.style.height = H + 'px';
  document.body.appendChild(cv);
  const grid = {color: '#e4e4e4', lineWidth: 0.7, drawTicks: false, offset: false};
  const tickFont = {size: 10, family: FONT};
  return new Chart(cv, {
    type, data: {datasets},
    options: {
      responsive: false, animation: false, events: [],
      layout: {padding: {left: 0, top: PADT, right: PADR, bottom: 0}},
      plugins: {legend: {display: false}, tooltip: {enabled: false}, boxp: {shade}},
      scales: {
        x: {type: 'linear', min: xr[0], max: xr[1], offset: false,
            ticks: {stepSize: xr[2], includeBounds: false, autoSkip: false, maxRotation: 0, padding: 4, color: '#262626', font: tickFont, callback: fmt},
            grid, border: {display: false},
            afterFit(s) { s.height = PADB; s.paddingLeft = 0; s.paddingRight = 0; }},
        y: {type: 'linear', min: yr[0], max: yr[1],
            ticks: {stepSize: yr[2], includeBounds: false, padding: 3, color: '#262626', font: tickFont, callback: fmt},
            grid, border: {display: false},
            afterFit(s) { s.width = PADL; s.paddingTop = 0; s.paddingBottom = 0; }}
      }
    },
    plugins: [boxPlugin]
  });
}

function txt(html, x, y, size, opt = {}) {
  const d = document.createElement('div');
  d.className = 't'; d.innerHTML = html;
  d.style.fontSize = size + 'px';
  d.style.left = x + 'px'; d.style.top = y + 'px';
  if (opt.bold) d.style.fontWeight = 'bold';
  let tf = opt.align === 'right' ? 'translate(-100%,-50%)' : 'translate(-50%,-50%)';
  if (opt.rot) tf += ' rotate(-90deg)';
  d.style.transform = tf;
  document.body.appendChild(d);
}

function legendBox(x, y, w, h) {
  const d = document.createElement('div'); d.className = 'legend';
  d.style.left = x + 'px'; d.style.top = y + 'px'; d.style.width = w + 'px'; d.style.height = h + 'px';
  icLabels.forEach((lab, i) => {
    const r = document.createElement('div');
    r.style.cssText = `position:absolute;left:3px;top:${2.5 + i * 9.6}px;height:9px;display:flex;align-items:center;white-space:nowrap;`;
    r.innerHTML = `<span style="display:inline-block;width:29px;height:0;border-top:2px solid ${icColors[i]};margin-right:5px"></span><span style="color:#111">${lab}</span>`;
    d.appendChild(r);
  });
  document.body.appendChild(d);
}

function trajPanel(box, series, yMax, yStep, isPrey, isLeft) {
  const datasets = series.map((s, i) => ({
    type: 'line', label: icLabels[i],
    data: s.slice(0, time.length).map((v, j) => ({x: time[j], y: v})),
    borderColor: icColors[i], borderWidth: 1, pointRadius: 0, tension: 0, fill: false,
    order: series.length - i, clip: 0
  }));
  const ch = makeChart(box, 'line', datasets, [0, 10000, 2000], [0, yMax, yStep], burnTime);
  const w = box.R - box.L, lineX = box.L + ch.scales.x.getPixelForValue(burnTime) - ch.chartArea.left;
  txt('transient', box.L + 0.25 * w, box.T + 8, 9);
  if (!isPrey) txt('post-burn-in sampling', box.L + 0.75 * w, box.T + 8, 9);
  txt('T<sub>burn</sub>=' + burnTime, lineX - 12, box.B - 30, 11, {rot: true});
  txt('Time', (box.L + box.R) / 2, box.B + 20, 10.5);
  txt('Population', isLeft ? 7 : 287, (box.T + box.B) / 2, 10.5, {rot: true});
  if (isPrey) legendBox(box.L + 129, box.T, 93, 42);
}

function densPanel(box, hist, bins, pdfRange, xr, yr, nbinsLabel, isLeft, xlab) {
  const n = hist.length, w = (bins[1] - bins[0]) / n;
  const bars = hist.map((h, i) => ({x: bins[0] + (i + 0.5) * w, y: h}));
  const curve = [{x: pdfRange[0], y: 0}].concat(bars, [{x: pdfRange[1], y: 0}]);
  const datasets = [
    {type: 'line', data: curve, borderColor: '#D95319', borderWidth: 1.8, pointRadius: 0, tension: 0, order: 1, clip: 0},
    {type: 'bar', data: bars, backgroundColor: '#3f8fca', borderColor: 'rgba(10,30,50,0.75)', borderWidth: 0.5,
     barPercentage: 1, categoryPercentage: 1, order: 2}
  ];
  makeChart(box, 'bar', datasets, xr, yr, null);
  const rx = box.R - 8;
  txt('N<sub>pool</sub> = ' + nPool, rx, box.T + 9, 9, {align: 'right'});
  txt('bins = ' + nbinsLabel, rx, box.T + 21, 9, {align: 'right'});
  txt('normalization = pdf', rx, box.T + 33, 9, {align: 'right'});
  txt(xlab, (box.L + box.R) / 2, box.B + 20, 10.5);
  txt('Probability density', isLeft ? 9 : 283, (box.T + box.B) / 2, 10, {rot: true});
}

// Panel boxes (plot areas, px)
const B_ = {
  tPA: {L: 23, T: 61, R: 254, B: 122},  tVA: {L: 305, T: 62, R: 536, B: 122},
  dPA: {L: 23, T: 186, R: 261, B: 248}, dVA: {L: 307, T: 187, R: 535, B: 248},
  tPB: {L: 23, T: 314, R: 254, B: 375}, tVB: {L: 305, T: 313, R: 535, B: 375},
  dPB: {L: 23, T: 439, R: 261, B: 502}, dVB: {L: 306, T: 439, R: 536, B: 502},
  tPC: {L: 23, T: 567, R: 254, B: 627}, tVC: {L: 305, T: 566, R: 535, B: 627},
  dPC: {L: 24, T: 692, R: 254, B: 754}, dVC: {L: 305, T: 692, R: 536, B: 754}
};

// Main title
txt('Wind-parameter sensitivity at fixed <i>σ</i><sub>1</sub>=0.03, <i>σ</i><sub>2</sub>=0.02', 278, 12, 11.5, {bold: true});

// Row (a)
trajPanel(B_.tPA, [preyA1, preyA2, preyA3, preyA4], 3.2, 1, true, true);
txt('<span style="font-size:12px">(<b>a</b>)</span>&nbsp;&nbsp;<b style="font-size:13px">prey</b> trajectory&nbsp;&nbsp;u(t)', 136, 39, 10);
txt('<i>θ</i>=0.100, <i>σ</i><sub>1</sub>=0.030, <i>σ</i><sub>2</sub>=0.020, <i>λ</i>=0.11626', 138, 50, 10);
trajPanel(B_.tVA, [predA1, predA2, predA3, predA4], 7, 2, false, false);
txt('(a)&nbsp;&nbsp;predator trajectory&nbsp;&nbsp;v(t)', 412, 52, 10);
densPanel(B_.dPA, preyA_hist, preyA_bins, preyA_pdfRange, [-0.055, 1.14, 0.2], [0, 4, 2], 89, true, 'u');
txt('(a)&nbsp;&nbsp;post-burn-in prey density', 138, 181, 10);
densPanel(B_.dVA, predA_hist, predA_bins, predA_pdfRange, [2.15, 7.09, 1], [0, 1, 0.5], 113, false, 'v');
txt('(a)&nbsp;&nbsp;post-burn-in predator density', 421, 181, 10);

// Row (b)
trajPanel(B_.tPB, [preyB1, preyB2, preyB3, preyB4], 3.2, 1, true, true);
txt('(b)&nbsp;&nbsp;prey trajectory&nbsp;&nbsp;u(t)', 138, 291, 10);
txt('<i>θ</i>=0.179, <i>σ</i><sub>1</sub>=0.030, <i>σ</i><sub>2</sub>=0.020, <i>λ</i>=0.11734', 138, 302, 10);
trajPanel(B_.tVB, [predB1, predB2, predB3, predB4], 7, 2, false, false);
txt('(b)&nbsp;&nbsp;predator trajectory&nbsp;&nbsp;v(t)', 412, 306, 10);
densPanel(B_.dPB, preyB_hist, preyB_bins, preyB_pdfRange, [-0.055, 1.12, 0.2], [0, 4, 2], 87, true, 'u');
txt('(b)&nbsp;&nbsp;post-burn-in prey density', 138, 433, 10);
densPanel(B_.dVB, predB_hist, predB_bins, predB_pdfRange, [2.42, 6.56, 1], [0, 1, 0.5], 97, false, 'v');
txt('(b)&nbsp;&nbsp;post-burn-in predator density', 421, 433, 10);

// Row (c)
trajPanel(B_.tPC, [preyC1, preyC2, preyC3, preyC4], 3.2, 1, true, true);
txt('(c)&nbsp;&nbsp;prey trajectory&nbsp;&nbsp;u(t)', 138, 545, 10);
txt('<i>θ</i>=5.500, <i>σ</i><sub>1</sub>=0.030, <i>σ</i><sub>2</sub>=0.020, <i>λ</i>=0.01293', 138, 555, 10);
trajPanel(B_.tVC, [predC1, predC2, predC3, predC4], 26, 10, false, false);
txt('(c)&nbsp;&nbsp;predator trajectory&nbsp;&nbsp;v(t)', 412, 560, 10);
densPanel(B_.dPC, preyC_hist, preyC_bins, preyC_pdfRange, [0, 2.5, 0.5], [0, 2, 1], 52, true, 'u');
txt('(c)&nbsp;&nbsp;post-burn-in prey density', 139, 686, 10);
densPanel(B_.dVC, predC_hist, predC_bins, predC_pdfRange, [5, 30, 5], [0, 0.2, 0.1], 53, false, 'v');
txt('(c)&nbsp;&nbsp;post-burn-in predator density', 421, 686, 10);
</script>
</body></html>
